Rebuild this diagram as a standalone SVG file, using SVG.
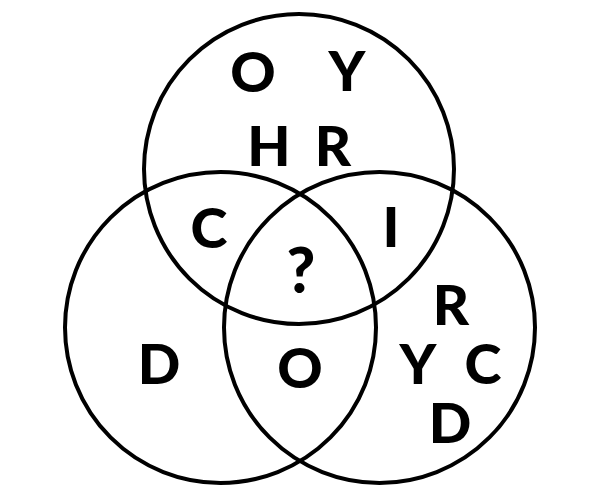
<svg xmlns="http://www.w3.org/2000/svg" width="600" height="500" viewBox="0 0 600 500">
<style>
.c{fill:none;stroke:#000;stroke-width:4}
.t{font-family:Lato,"Open Sans","Liberation Sans",sans-serif;font-weight:900;font-size:56px;fill:#000;text-anchor:middle}
</style>
<rect width="600" height="500" fill="#fff"/>
<g id="circles">
<circle id="top" class="c" cx="299" cy="169" r="155"/>
<circle id="left" class="c" cx="220.5" cy="327.5" r="155.5"/>
<circle id="right" class="c" cx="379.5" cy="327.5" r="155.5"/>
</g>
<g id="letters">
<text class="t" x="253" y="92">O</text>
<text class="t" x="347" y="91">Y</text>
<text class="t" x="269" y="166">H</text>
<text class="t" x="333" y="166">R</text>
<text class="t" x="209" y="248">C</text>
<text class="t" x="391" y="247">I</text>
<text class="t" x="301" y="293" style="font-size:62px">?</text>
<text class="t" x="159" y="384">D</text>
<text class="t" x="300" y="388">O</text>
<text class="t" x="451" y="325">R</text>
<text class="t" x="418" y="384">Y</text>
<text class="t" x="483" y="384">C</text>
<text class="t" x="450" y="443">D</text>
</g>
</svg>
